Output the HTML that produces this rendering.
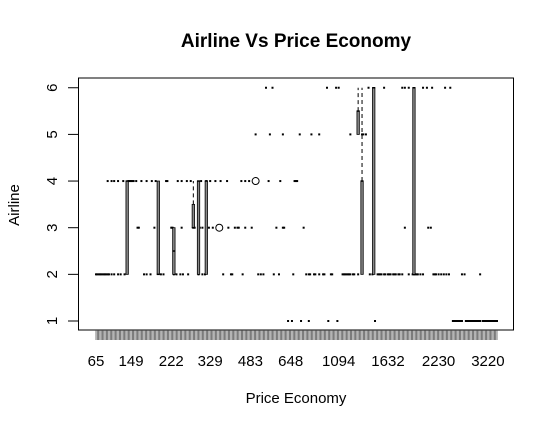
<!DOCTYPE html>
<html><head><meta charset="utf-8"><style>
body{margin:0;background:#fff;}
svg{display:block;font-family:"Liberation Sans",Arial,sans-serif;}
</style></head><body>
<svg id="chart" width="554" height="428">
<text x="296" y="47" text-anchor="middle" font-size="19" font-weight="bold">Airline Vs Price Economy</text>
<text x="296" y="403" text-anchor="middle" font-size="15">Price Economy</text>
<text transform="translate(19,205) rotate(-90)" text-anchor="middle" font-size="15">Airline</text>
<rect x="78.5" y="78" width="435" height="252" fill="none" stroke="#000" stroke-width="1"/>
<g id="marks"></g>
</svg>
<script>
const N = 310;
const yTicks = [1,2,3,4,5,6];
const xLabelCats = [0,27,58,88,119,150,187,225,264,302];
const xLabels = ["65","149","222","329","483","648","1094","1632","2230","3220"];
const row1 = [148,151,158,164,179,186,215,275,276,277,278,279,280,281,282,285,286,287,288,289,290,291,292,293,294,295,296,298,299,300,301,302,303,304,305,306,307,308,309];
const row2 = [0,1,2,3,4,5,6,7,8,9,10,12,14,17,19,22,37,39,42,50,52,60,62,65,67,71,79,82,84,98,104,105,113,125,127,129,137,141,152,162,164,165,168,169,172,175,176,181,182,190,191,192,193,194,195,196,198,199,202,211,213,217,218,219,220,222,223,225,226,227,229,230,231,233,234,236,241,244,245,246,247,248,250,252,260,261,262,264,266,268,270,272,282,284,296];
const row3 = [24,32,33,45,48,58,59,66,75,76,80,82,85,87,90,102,107,109,110,115,120,139,144,145,160,238,256,258];
const row4 = [9,12,14,17,21,25,26,27,28,29,31,35,39,43,46,54,55,63,66,70,73,81,85,88,92,96,101,112,115,118,133,142,153,154,155];
const row5 = [123,134,144,157,166,172,196,205,206,208];
const row6 = [131,136,178,185,187,210,222,236,238,241,252,255,259,269,273];
const outlierCats = [95,123];
const outlierVals = [3,4];
const boxCats = [24,48,60,75,79,85,202,205,214,245];
const boxQ1 = [2,2,2,3,2,2,5,2,2,2];
const boxMed = [4,2,2.5,3,4,4,5.5,4,6,6];
const boxQ3 = [4,4,3,3.5,4,4,5.5,4,6,6];
const boxHi = [4,4,3,4,4,4,6,6,6,6];

const NS = "http://www.w3.org/2000/svg";
const g = document.getElementById('marks');
const xs = i => 96 + i * (401 / (N - 1));
const ys = v => 321 - 46.65 * (v - 1);
function mk(tag, attrs){const e=document.createElementNS(NS,tag);for(const k in attrs)e.setAttribute(k,attrs[k]);g.appendChild(e);return e;}

yTicks.forEach(v=>{
  const t=mk('line',{x1:68,x2:78.5,y1:ys(v),y2:ys(v),stroke:'#000'});
  
  
  const l=mk('text',{transform:`translate(57,${ys(v)}) rotate(-90)`,'text-anchor':'middle','font-size':15});
  l.textContent=v;
  
  
});
for(let i=0;i<N;i++){
  const t=mk('line',{x1:xs(i),x2:xs(i),y1:330,y2:340,stroke:'#444','stroke-width':0.7});
  
  
}
xLabelCats.forEach((c,k)=>{
  const l=mk('text',{x:xs(c),y:366,'text-anchor':'middle','font-size':15});
  l.textContent=xLabels[k];
  
  
});
[[row1,1],[row2,2],[row3,3],[row4,4],[row5,5],[row6,6]].forEach(([arr,v])=>{
  arr.forEach(c=>{
    const d=mk('rect',{x:xs(c)-1,y:ys(v)-1,width:2,height:2,fill:'#000'});
    
    
  });
});
boxCats.forEach((c,k)=>{
  const x=xs(c);
  if(boxHi[k]>boxQ3[k]){
    const w=mk('line',{x1:x,x2:x,y1:ys(boxQ3[k]),y2:ys(boxHi[k]),stroke:'#000','stroke-dasharray':'4,3'});
    
    
  }
  const h=Math.max(ys(boxQ1[k])-ys(boxQ3[k]),0.5);
  const b=mk('rect',{x:x-1.2,y:ys(boxQ3[k]),width:2.4,height:h,fill:'#888',stroke:'#000','stroke-width':0.8});
  
  
  const m=mk('line',{x1:x-1.5,x2:x+1.5,y1:ys(boxMed[k]),y2:ys(boxMed[k]),stroke:'#000','stroke-width':1.5});
  
  
});
outlierCats.forEach((c,k)=>{
  const o=mk('circle',{cx:xs(c),cy:ys(outlierVals[k]),r:3.5,fill:'none',stroke:'#000'});
  
  
});
</script>
</body></html>
